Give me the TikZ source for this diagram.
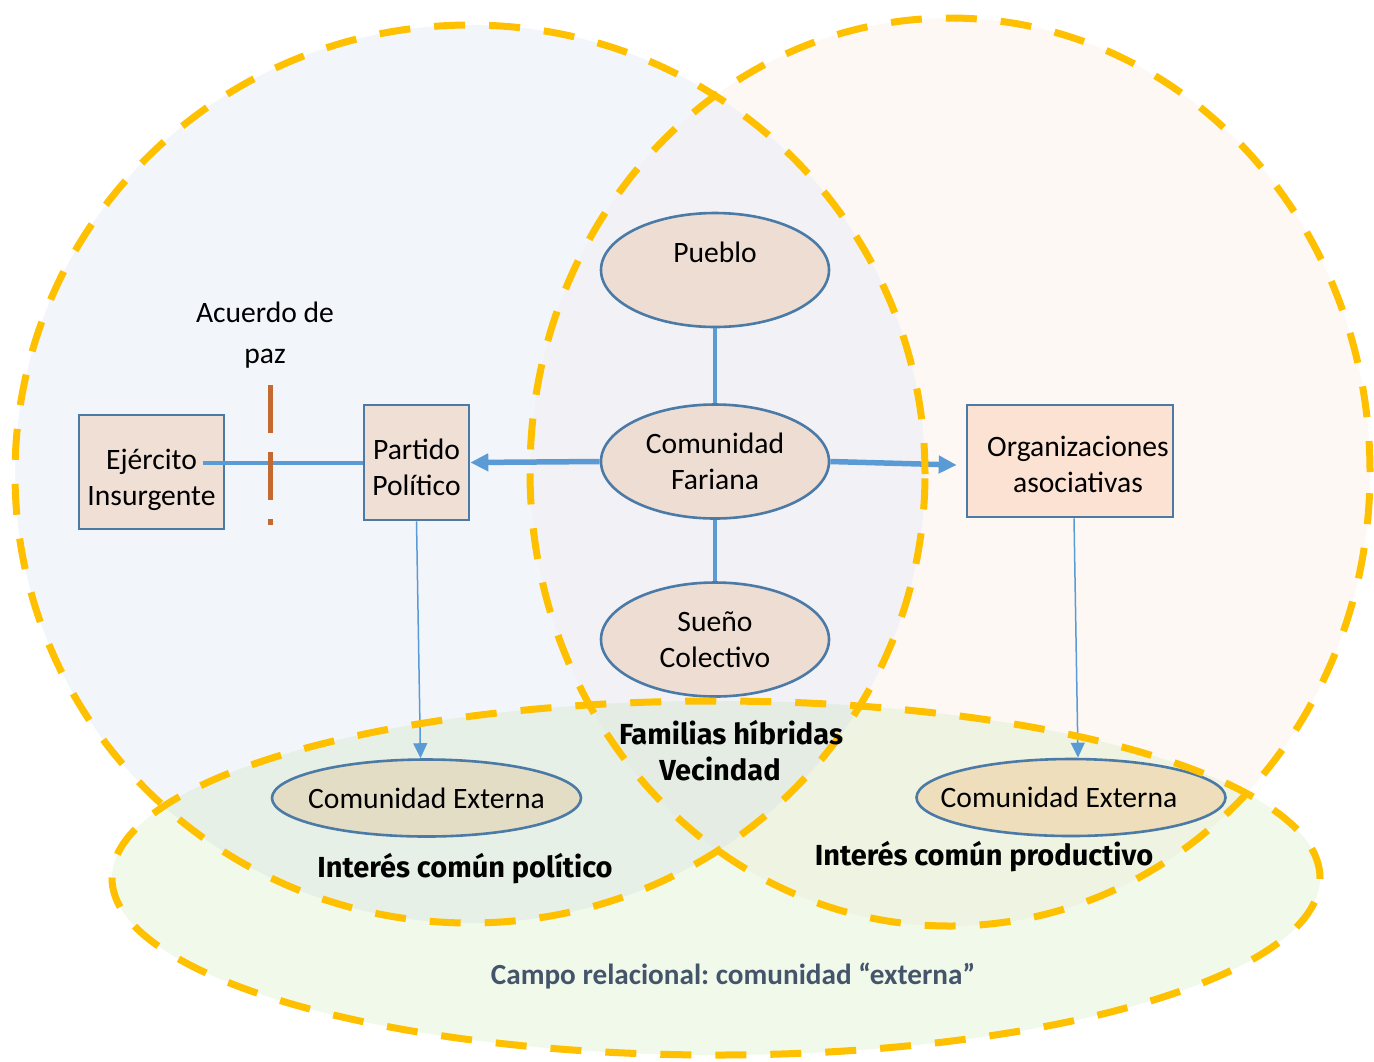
\documentclass[tikz,border=0pt]{standalone}
\usepackage{fontspec}
\setmainfont{Carlito}
\newfontfamily\heavyfont{Fira Sans}
\usetikzlibrary{shapes.geometric,arrows.meta,calc}

\definecolor{gold}{HTML}{FFC000}
\definecolor{linkblue}{HTML}{5B9BD5}
\definecolor{edge}{HTML}{4A7AA5}
\definecolor{cut}{HTML}{C4692F}
\definecolor{campotext}{HTML}{44546A}
% zone fills and their overlaps
\definecolor{zL}{HTML}{F2F6FB}
\definecolor{zR}{HTML}{FDF8F4}
\definecolor{zB}{HTML}{F0F9EA}
\definecolor{zLR}{HTML}{F2F2F6}
\definecolor{zLB}{HTML}{E6F0E6}
\definecolor{zRB}{HTML}{EFF3E1}
\definecolor{zLRB}{HTML}{E5ECE3}
% node fills
\definecolor{ovalfill}{HTML}{EEDDD3}
\definecolor{boxA}{HTML}{EFDFD5}
\definecolor{boxB}{HTML}{FBE2D3}
\definecolor{extA}{HTML}{E3DDC5}
\definecolor{extB}{HTML}{EEDEBB}

\newcommand\leftzone{(470,474) ellipse [x radius=227.5pt, y radius=224.5pt]}
\newcommand\rightzone{(950,472) ellipse [x radius=210pt, y radius=227pt]}
\newcommand\basezone{(716,878) ellipse [x radius=302pt, y radius=88.5pt]}

\frenchspacing
\begin{document}
\begin{tikzpicture}[x=0.5pt,y=-0.5pt,
  zoneline/.style={draw=gold, line width=3.5pt, dash pattern=on 15.5pt off 12pt},
  txt/.style={font=\fontsize{14.8}{18}\selectfont, text=black},
  box/.style={draw=edge, line width=1.3pt, inner sep=0pt},
  boxtext/.style={txt, align=center},
  oval/.style={txt, ellipse, draw=edge, line width=1.3pt, fill=ovalfill, align=center,
               minimum width=114pt, minimum height=57pt, inner sep=0pt},
  extoval/.style={txt, ellipse, draw=edge, line width=1.3pt, align=center,
               minimum width=154.5pt, minimum height=38.5pt, inner sep=0pt},
  hvy/.style={font=\heavyfont\bfseries\fontsize{14.5}{18}\selectfont, text=black},
  campo/.style={font=\bfseries\fontsize{14.6}{17}\selectfont, text=campotext},
  link/.style={draw=linkblue, line width=2pt},
  biglink/.style={draw=linkblue, line width=2.75pt, -{Triangle[length=9pt,width=8.5pt]}},
  thinlink/.style={draw=linkblue, line width=0.75pt, -{Triangle[length=7.5pt,width=7pt]}},
  peace/.style={draw=cut, line width=2.5pt, dash pattern=on 24pt off 9.5pt}
]
\useasboundingbox (0,0) rectangle (1374,1061);

% zone fills with blended overlaps
\fill[zL] \leftzone;
\fill[zR] \rightzone;
\fill[zB] \basezone;
\begin{scope}
  \clip \rightzone;
  \fill[zRB] \basezone;
\end{scope}
\begin{scope}
  \clip \leftzone;
  \fill[zLR] \rightzone;
  \fill[zLB] \basezone;
  \clip \rightzone;
  \fill[zLRB] \basezone;
\end{scope}

% boxes, with their text set a little off centre
\node[box, fill=boxA, minimum width=72.5pt, minimum height=57pt,
      label={[boxtext, yshift=-4pt]center:Ejército\\Insurgente}] (ej) at (151.5,472) {};
\node[box, fill=boxA, minimum width=52.5pt, minimum height=57.5pt,
      label={[boxtext, yshift=-2.5pt]center:Partido\\Político}] (pp) at (416.5,462.5) {};
\node[box, fill=boxB, minimum width=103pt, minimum height=56pt,
      label={[boxtext, xshift=4pt, yshift=-1.5pt]center:Organizaciones\\asociativas}] (org) at (1070,461) {};

% ovals
\node[oval] (pue) at (715,270) {Pueblo\\\phantom{P}};
\node[oval] (cf) at (715,461.5) {Comunidad\\Fariana};
\node[oval] (sue) at (715,639.5) {Sueño\\Colectivo};

\node[extoval, fill=extA] (ce1) at (426.5,798) {\makebox[100pt]{Comunidad Externa}};
\node[extoval, fill=extB] (ce2) at (1071,797.5) {\makebox[100pt]{\hspace*{-12pt}Comunidad Externa}};

\node[txt, align=center] (acu) at (265,335) {Acuerdo de\\[2.5pt]paz};

% connectors
\draw[link] ($(ej.east |- pp.west)+(-22,0)$) -- (pp.west);
\coordinate (cutA) at (270,385);
\coordinate (cutB) at (270,525);
\draw[peace] (cutA) -- (cutB);

\draw[link] (pue) -- (cf);
\draw[link] (cf) -- (sue);
\draw[biglink] (cf.west) -- (pp.east);
\draw[biglink] (cf.east) -- ($(org.west)+(-9,4)$);
\draw[thinlink] (pp.south) -- ($(ce1.north)+(-6,0)$);
\draw[thinlink] ($(org.south)+(4,0)$) -- ($(ce2.north)+(7,0)$);

% dashed zone outlines
\draw[zoneline] \leftzone;
\draw[zoneline] \rightzone;
\draw[zoneline] \basezone;

% zone labels
\node[hvy] (fam) at (731,733) {Familias híbridas};
\node[hvy] (vec) at (720,769) {Vecindad};
\node[hvy] (pol) at (465,869) {Interés común político};
\node[hvy] (prod) at (984,857) {Interés común productivo};
\node[campo] (campo) at (733,976) {Campo relacional: comunidad “externa”};
\end{tikzpicture}
\end{document}
